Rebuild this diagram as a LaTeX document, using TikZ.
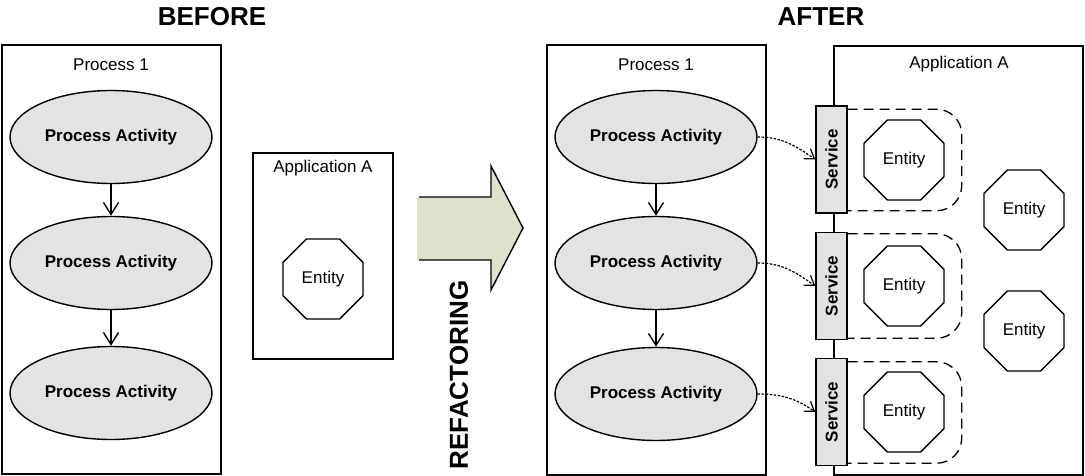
\documentclass[tikz,border=0pt]{standalone}
\usepackage{fontspec}
\setmainfont{Liberation Sans}
\usetikzlibrary{arrows.meta,shapes.geometric}

\definecolor{actgray}{RGB}{227,227,227}
\definecolor{refgreen}{RGB}{221,226,205}

\begin{document}
\begin{tikzpicture}[x=1pt,y=-1pt,line width=1.4pt,
    font=\fontsize{17}{20}\selectfont]
\useasboundingbox (0,0) rectangle (1085,476);
% titles
\node (before) at (212,17) {\fontsize{26}{30}\selectfont\bfseries BEFORE};
\node (after) at (821,17) {\fontsize{26}{30}\selectfont\bfseries AFTER};
\node[rotate=90] (refac) at (459,375) {\fontsize{26}{30}\selectfont\bfseries REFACTORING};
% containers
\draw (2,45) rectangle (221,474);
\draw (253,153) rectangle (393,359);
\draw (547,45) rectangle (766,475);
\draw (834,46) rectangle (1083,475);
\node (lproc) at (111,65) {Process 1};
\node (lapp) at (323,168) {Application A};
\node (rproc) at (656,65) {Process 1};
\node (rapp) at (959,64) {Application A};
% refactoring arrow
\fill[refgreen] (417,197) -- (491,197) -- (491,166) -- (523,228) -- (491,290)
    -- (491,260) -- (417,260) -- cycle;
\draw (419,197) -- (491,197) -- (491,166) -- (523,228) -- (491,290)
    -- (491,260) -- (419,260);
\begin{scope}[every node/.style={ellipse,draw,fill=actgray,font=\fontsize{17}{20}\selectfont\bfseries,
              minimum width=202pt,minimum height=93pt}]
    \node (l1) at (111,137) {Process Activity};
    \node (l2) at (111,263) {Process Activity};
    \node (l3) at (111,393) {Process Activity};
    \node (r1) at (656,137) {Process Activity};
    \node (r2) at (656,263) {Process Activity};
    \node (r3) at (656,394) {Process Activity};
\end{scope}
\begin{scope}[every node/.style={regular polygon,regular polygon sides=8,draw,fill=white,
              inner sep=0pt,minimum size=86.6pt}]
    \node (e0) at (323,279) {Entity};
    \node (e1) at (904,160) {Entity};
    \node (e2) at (904,286) {Entity};
    \node (e3) at (904,412) {Entity};
    \node (e4) at (1024,210) {Entity};
    \node (e5) at (1024,331) {Entity};
\end{scope}
\begin{scope}[every node/.style={rectangle,draw,fill=actgray,inner sep=0pt,
              minimum width=31pt,minimum height=107pt}]
    \node (s1) at (831.5,159.5) {\rotatebox{90}{\bfseries Service}};
    \node (s2) at (831.5,286) {\rotatebox{90}{\bfseries Service}};
    \node (s3) at (831.5,412) {\rotatebox{90}{\bfseries Service}};
\end{scope}
\begin{scope}[line width=1.3pt,dash pattern=on 10pt off 6pt,rounded corners=25pt]
    \draw ([yshift=-4pt]s1.north east) -| ([xshift=114pt]s1.east) |- ([yshift=3pt]s1.south east);
    \draw ([yshift=-2pt]s2.north east) -| ([xshift=114pt]s2.east) |- ([yshift=2pt]s2.south east);
    \draw ([yshift=-4pt]s3.north east) -| ([xshift=114pt]s3.east) |- ([yshift=3pt]s3.south east);
\end{scope}
\begin{scope}[every edge/.style={draw=black,line width=1.4pt,-{Straight Barb[length=12pt,width=15pt]}}]
    \path (l1) edge (l2);
    \path (l2) edge (l3);
    \path (r1) edge (r2);
    \path (r2) edge (r3);
\end{scope}
\begin{scope}[every edge/.style={draw=black,line width=1.2pt,dash pattern=on 2.5pt off 1.5pt,
              -{Straight Barb[length=9pt,width=12pt]}}]
    \path (r1.east) edge[out=0,in=145] (s1.west);
    \path (r2.east) edge[out=0,in=145] (s2.west);
    \path (r3.east) edge[out=0,in=145] (s3.west);
\end{scope}
\end{tikzpicture}
\end{document}
